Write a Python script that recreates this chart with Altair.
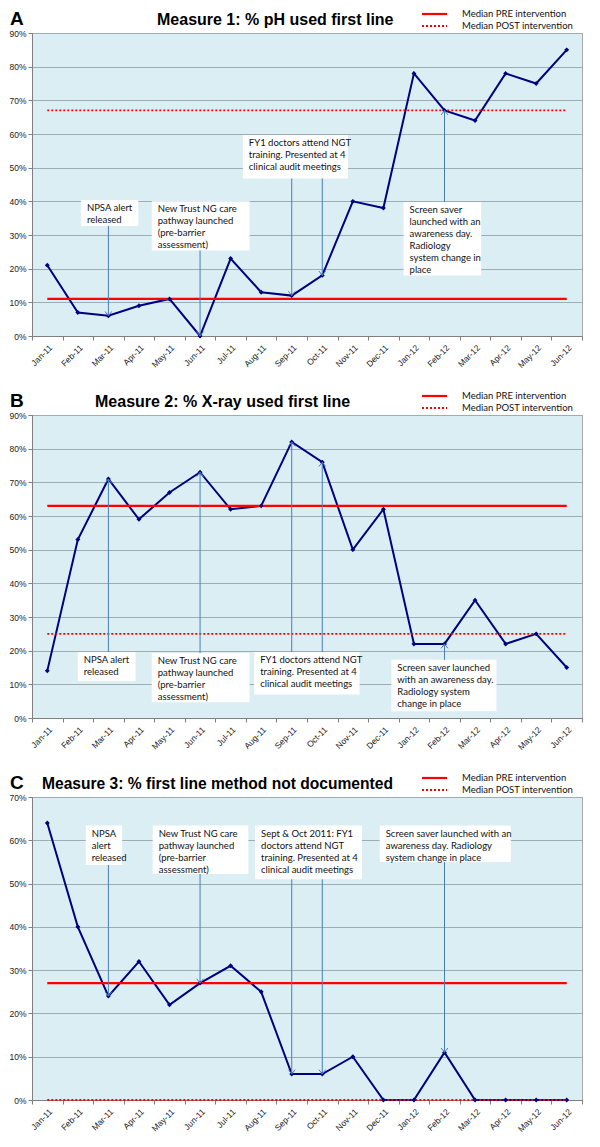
import altair as alt
import pandas as pd

months = ["Jan-11", "Feb-11", "Mar-11", "Apr-11", "May-11", "Jun-11", "Jul-11", "Aug-11",
          "Sep-11", "Oct-11", "Nov-11", "Dec-11", "Jan-12", "Feb-12", "Mar-12", "Apr-12",
          "May-12", "Jun-12"]

ph_first = [21, 7, 6, 9, 11, 0, 23, 13, 12, 18, 40, 38, 78, 67, 64, 78, 75, 85]
xray_first = [14, 53, 71, 59, 67, 73, 62, 63, 82, 76, 50, 62, 22, 22, 35, 22, 25, 15]
not_documented = [64, 40, 24, 32, 22, 27, 31, 25, 6, 6, 10, 0, 0, 11, 0, 0, 0, 0]

median_pre = [11, 63, 27]
median_post = [67, 25, 0]
median_labels = ["Median PRE intervention", "Median POST intervention"]

letters = ["A", "B", "C"]
titles = ["Measure 1: % pH used first line",
          "Measure 2: % X-ray used first line",
          "Measure 3: % first line method not documented"]
y_max = [90, 90, 70]

txt_npsa = "NPSA alert\nreleased"
txt_trust = "New Trust NG care\npathway launched\n(pre-barrier\nassessment)"
txt_fy1 = "FY1 doctors attend NGT\ntraining. Presented at 4\nclinical audit meetings"

# annotation boxes: (left month-index, right month-index, top %, bottom %, text)
boxes_a = [(1.10, 2.98, 40.4, 32.7, txt_npsa),
           (3.42, 6.62, 40.0, 25.4, txt_trust),
           (6.40, 9.84, 59.6, 46.8, txt_fy1),
           (11.66, 14.2, 39.8, 18.0,
            "Screen saver\nlaunched with an\nawareness day.\nRadiology\nsystem change in\nplace")]
boxes_b = [(1.00, 2.89, 19.6, 10.9, txt_npsa),
           (3.42, 6.62, 19.3, 4.7, txt_trust),
           (6.77, 10.22, 19.6, 7.0, txt_fy1),
           (11.26, 14.7, 17.3, 2.0,
            "Screen saver launched\nwith an awareness day.\nRadiology system\nchange in place")]
boxes_c = [(1.26, 2.45, 63.4, 54.3, "NPSA\nalert\nreleased"),
           (3.45, 6.58, 63.4, 52.2, txt_trust),
           (6.80, 10.3, 63.4, 51.0,
            "Sept & Oct 2011: FY1\ndoctors attend NGT\ntraining. Presented at 4\nclinical audit meetings"),
           (10.88, 15.17, 63.4, 55.0,
            "Screen saver launched with an\nawareness day. Radiology\nsystem change in place")]

# arrows: (month index, start % at box edge) -> ends at that month's value
arrows_a = [(2, 32.7), (5, 25.4), (8, 46.8), (9, 46.8), (13, 39.8)]
arrows_b = [(2, 19.6), (5, 19.3), (8, 19.6), (9, 19.6), (13, 17.3)]
arrows_c = [(2, 54.3), (5, 52.2), (8, 51.0), (9, 51.0), (13, 55.0)]

title_x = [125, 63, 10]
title_size = [16, 16, 15.6]

W, H = 550, 303
NAVY = "#000080"
ARROW = "#4A7EBB"
BG = "#DBEEF4"
RED = "#FF0000"
DOWN = "M-1,-1.3L0,0L1,-1.3"
UP = "M-1,1.3L0,0L1,1.3"

month_expr = " : ".join(f"datum.value === {j} ? '{m}'" for j, m in enumerate(months)) + " : ''"


def panel(k, vals, boxes, arrows):
    n = len(months)
    xs = alt.Scale(domain=[-0.5, n - 0.5], nice=False, zero=False)
    ys = alt.Scale(domain=[0, y_max[k]], nice=False, zero=True)
    xaxis = alt.Axis(values=[j / 2 - 0.5 for j in range(2 * n + 1)],
                     labelExpr=month_expr,
                     labelAngle=315, labelOverlap=False, labelFontSize=8.5,
                     labelPadding=3, tickSize=4, grid=False, title=None,
                     tickOpacity={"condition": {"test": "datum.value % 1 !== 0", "value": 1},
                                  "value": 0})
    yaxis = alt.Axis(values=list(range(0, y_max[k] + 1, 10)),
                     labelExpr="datum.value + '%'", title=None, grid=True,
                     labelOverlap=False, tickSize=4, labelFontSize=8.5, labelPadding=2)

    def X(f):
        return alt.X(f, scale=xs, axis=xaxis)

    def Y(f):
        return alt.Y(f, scale=ys, axis=yaxis)

    df = pd.DataFrame({"i": list(range(n)), "v": vals})
    base = alt.Chart(df)
    line = base.mark_line(color=NAVY, strokeWidth=2).encode(x=X("i:Q"), y=Y("v:Q"))
    pts = base.mark_point(shape="diamond", filled=True, size=24, color=NAVY, opacity=1).encode(
        x=X("i:Q"), y=Y("v:Q"))

    pre_df = pd.DataFrame({"x0": [0], "x1": [n - 1], "y": [median_pre[k]]})
    post_df = pd.DataFrame({"x0": [0], "x1": [n - 1], "y": [median_post[k]]})
    pre_rule = alt.Chart(pre_df).mark_rule(color=RED, strokeWidth=2.2).encode(
        x=X("x0:Q"), x2="x1:Q", y=Y("y:Q"))
    post_rule = alt.Chart(post_df).mark_rule(color=RED, strokeWidth=1.8,
                                             strokeDash=[2, 2]).encode(
        x=X("x0:Q"), x2="x1:Q", y=Y("y:Q"))

    # legend (drawn above the plot area, top right)
    leg_layers = []
    for r, lab in enumerate(median_labels):
        ly = -19 + 12 * r
        ldf = pd.DataFrame({"t": [lab]})
        kw = {"strokeDash": [2, 2], "strokeWidth": 1.8} if r == 1 else {"strokeWidth": 2.2}
        leg_layers.append(alt.Chart(ldf).mark_rule(color=RED, **kw).encode(
            x=alt.value(W - 160), x2=alt.value(W - 135), y=alt.value(ly)))
        leg_layers.append(alt.Chart(ldf).mark_text(
            font="Lato", fontSize=9.5, align="left", baseline="middle", color="#111").encode(
            x=alt.value(W - 120), y=alt.value(ly), text="t:N"))

    bdf = pd.DataFrame(boxes, columns=["x1", "x2", "yt", "yb", "text"])
    rect = alt.Chart(bdf).mark_rect(fill="white").encode(
        x=X("x1:Q"), x2="x2:Q", y=Y("yt:Q"), y2="yb:Q")
    btxt = alt.Chart(bdf).mark_text(align="left", baseline="top", dx=6, dy=3,
                                    font="Lato", fontSize=9.5, lineBreak="\n",
                                    lineHeight=12, color="#111").encode(
        x=X("x1:Q"), y=Y("yt:Q"), text="text:N")

    adf = pd.DataFrame([{"i": i, "y0": y0, "y1": vals[i],
                         "dir": "down" if vals[i] < y0 else "up"} for i, y0 in arrows])
    arule = alt.Chart(adf).mark_rule(color=ARROW, strokeWidth=1).encode(
        x=X("i:Q"), y=Y("y0:Q"), y2="y1:Q")
    ahead = alt.Chart(adf).mark_point(filled=False, size=45, color=ARROW, strokeWidth=1,
                                      opacity=1).encode(
        x=X("i:Q"), y=Y("y1:Q"),
        shape=alt.Shape("dir:N", scale=alt.Scale(domain=["down", "up"], range=[DOWN, UP]),
                        legend=None))

    hdr = pd.DataFrame({"t": [letters[k]]})
    letter = alt.Chart(hdr).mark_text(font="Liberation Sans", fontWeight="bold", fontSize=19,
                                      align="left", baseline="alphabetic", color="black").encode(
        x=alt.value(-22), y=alt.value(-8), text="t:N")
    tdf = pd.DataFrame({"t": [titles[k]]})
    ttl = alt.Chart(tdf).mark_text(font="Liberation Sans", fontWeight="bold",
                                   fontSize=title_size[k],
                                   align="left", baseline="alphabetic", color="black").encode(
        x=alt.value(title_x[k]), y=alt.value(-8), text="t:N")

    return alt.layer(line, pre_rule, post_rule, pts, rect, btxt, arule, ahead,
                     letter, ttl, *leg_layers).properties(
        width=W, height=H,
        view=alt.ViewBackground(fill=BG, stroke="#A6A6A6", strokeWidth=1),
    )


chart = alt.vconcat(
    panel(0, ph_first, boxes_a, arrows_a),
    panel(1, xray_first, boxes_b, arrows_b),
    panel(2, not_documented, boxes_c, arrows_c),
    spacing=20,
    padding=0,
).resolve_scale(x="independent", y="independent").configure_view(
    fill=BG, stroke="#A6A6A6", strokeWidth=1).configure_axis(
    domainColor="#7F7F7F", tickColor="#7F7F7F", labelColor="#222",
    labelFont="Liberation Sans", gridColor="#9DADB5", gridWidth=1)

chart.save("out.html", embed_options={"renderer": "svg", "actions": False})
